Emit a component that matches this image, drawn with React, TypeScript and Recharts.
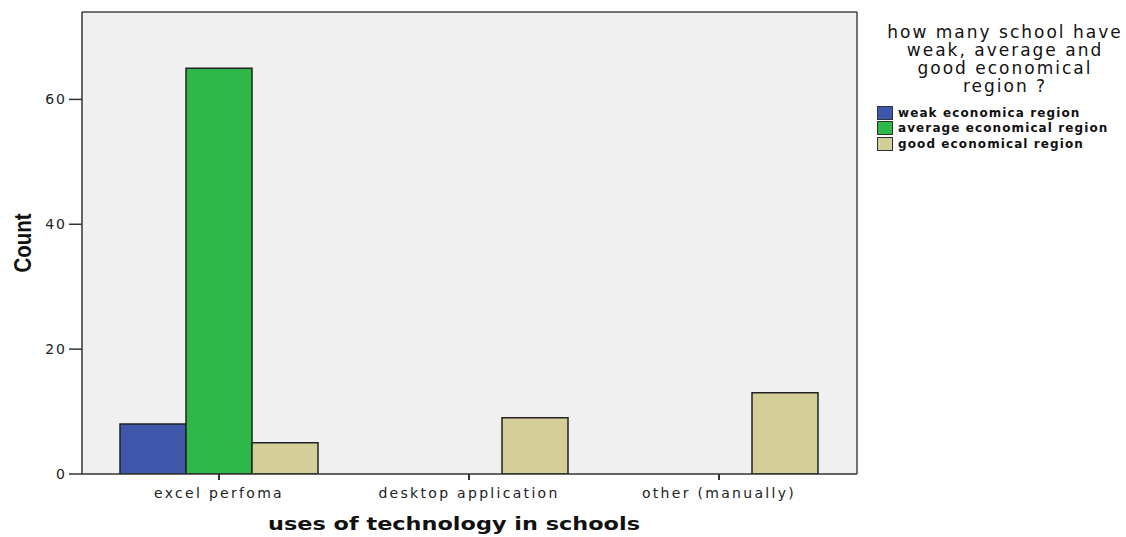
import React from "react";
import { BarChart, Bar, XAxis, YAxis, CartesianGrid, ReferenceLine } from "recharts";

const categories = ["excel perfoma", "desktop application", "other (manually)"];
const weakValues = [8, 0, 0];
const averageValues = [65, 0, 0];
const goodValues = [5, 9, 13];
const yTicks = [0, 20, 40, 60];
const yMax = 74;
const seriesNames = ["weak economica region", "average economical region", "good economical region"];
const seriesColors = ["#3f57aa", "#2eb84a", "#d4cf98"];
const legendTitle = ["how many school have", "weak, average and", "good economical", "region ?"];

const data = categories.map((c, i) => ({
  cat: c,
  weak: weakValues[i] || null,
  average: averageValues[i] || null,
  good: goodValues[i] || null,
}));

const FONT = "'DejaVu Sans', Verdana, sans-serif";

const LegendBox = () => (
  <div style={{ position: "absolute", left: 872, top: 23, width: 254, fontFamily: FONT, color: "#111" }}>
    <div style={{ fontSize: 17, letterSpacing: 2, lineHeight: "18px", textAlign: "center", width: 266 }}>
      {legendTitle.map((t) => (
        <div key={t}>{t}</div>
      ))}
    </div>
    <div style={{ marginTop: 10, marginLeft: 5 }}>
      {seriesNames.map((n, i) => (
        <div key={n} style={{ display: "flex", alignItems: "center", height: 15.5 }}>
          <div style={{ width: 14, height: 12, background: seriesColors[i], border: "1px solid #333", marginRight: 5 }} />
          <span style={{ fontSize: 12, fontWeight: "bold", letterSpacing: 1.1, whiteSpace: "nowrap" }}>{n}</span>
        </div>
      ))}
    </div>
  </div>
);

const YLabel = () => (
  <text
    x={22}
    y={243}
    transform="rotate(-90, 22, 243)"
    textAnchor="middle"
    dominantBaseline="central"
    fontFamily="'Liberation Sans', Arial, sans-serif"
    fontWeight="bold"
    fontSize={24}
    textLength={59}
    lengthAdjust="spacingAndGlyphs"
    fill="#111"
  >
    Count
  </text>
);

const XLabel = () => (
  <text
    x={454}
    y={523}
    textAnchor="middle"
    dominantBaseline="central"
    fontFamily={FONT}
    fontWeight="bold"
    fontSize={18}
    textLength={372}
    lengthAdjust="spacingAndGlyphs"
    fill="#111"
  >
    uses of technology in schools
  </text>
);

export default function App() {
  return (
    <div style={{ position: "absolute", left: 0, top: 0, width: 1126, height: 537, background: "#fff" }}>
      <BarChart
        width={1126}
        height={537}
        data={data}
        margin={{ top: 12, right: 268, bottom: 0, left: 0 }}
        barCategoryGap={26}
        barGap={0}
      >
        <CartesianGrid horizontal={false} vertical={false} fill="#f0f0f0" />
        <XAxis
          dataKey="cat"
          padding={{ left: 12, right: 13 }}
          height={63}
          axisLine={{ stroke: "#333", strokeWidth: 1.5 }}
          tickLine={{ stroke: "#333", strokeWidth: 2 }}
          tickSize={6}
          tickMargin={8}
          tick={{ fontFamily: FONT, fontSize: 14, letterSpacing: 2.3, fill: "#222" }}
          label={<XLabel />}
        />
        <YAxis
          width={82}
          domain={[0, yMax]}
          ticks={yTicks}
          allowDataOverflow
          axisLine={{ stroke: "#333", strokeWidth: 1.5 }}
          tickLine={{ stroke: "#333", strokeWidth: 1.5 }}
          tickSize={13}
          tickMargin={2}
          tick={{ fontFamily: FONT, fontSize: 14, letterSpacing: 2, fill: "#222" }}
          label={<YLabel />}
        />
        <YAxis
          yAxisId="right"
          orientation="right"
          width={1}
          domain={[0, yMax]}
          tick={false}
          tickLine={false}
          axisLine={{ stroke: "#444", strokeWidth: 1.5 }}
        />
        <ReferenceLine y={yMax} stroke="#444" strokeWidth={1.5} />
        <Bar dataKey="weak" name={seriesNames[0]} fill={seriesColors[0]} stroke="#222" strokeWidth={1.5} isAnimationActive={false} />
        <Bar dataKey="average" name={seriesNames[1]} fill={seriesColors[1]} stroke="#222" strokeWidth={1.5} isAnimationActive={false} />
        <Bar dataKey="good" name={seriesNames[2]} fill={seriesColors[2]} stroke="#222" strokeWidth={1.5} isAnimationActive={false} />
      </BarChart>
      <LegendBox />
    </div>
  );
}
